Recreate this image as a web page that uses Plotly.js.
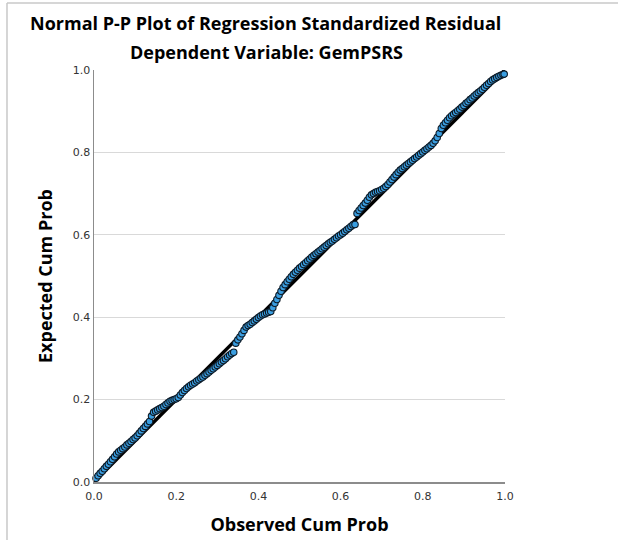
<!DOCTYPE html>
<html>
<head>
<meta charset="utf-8">
<script src="https://cdn.plot.ly/plotly-3.0.1.min.js"></script>
<style>html,body{margin:0;padding:0;background:#fff;}#chart{width:618px;height:540px;}</style>
</head>
<body>
<div id="chart"></div>
<script>
// Observed cumulative probability (x) and expected cumulative probability (y)
const observedCumProb = [
  0.005,0.010,0.015,0.020,0.025,0.030,0.035,0.040,0.045,0.050,
  0.055,0.060,0.065,0.070,0.075,0.080,0.085,0.090,0.095,0.100,
  0.105,0.110,0.115,0.120,0.125,0.130,0.135,0.140,0.145,0.150,
  0.155,0.160,0.165,0.170,0.175,0.180,0.185,0.190,0.195,0.200,
  0.205,0.210,0.215,0.220,0.225,0.230,0.235,0.240,0.245,0.250,
  0.255,0.260,0.265,0.270,0.275,0.280,0.285,0.290,0.295,0.300,
  0.305,0.310,0.315,0.320,0.325,0.330,0.335,0.340,0.345,0.350,
  0.355,0.360,0.365,0.370,0.375,0.380,0.385,0.390,0.395,0.400,
  0.405,0.410,0.415,0.420,0.425,0.430,0.435,0.440,0.445,0.450,
  0.455,0.460,0.465,0.470,0.475,0.480,0.485,0.490,0.495,0.500,
  0.505,0.510,0.515,0.520,0.525,0.530,0.535,0.540,0.545,0.550,
  0.555,0.560,0.565,0.570,0.575,0.580,0.585,0.590,0.595,0.600,
  0.605,0.610,0.615,0.620,0.625,0.630,0.635,0.640,0.645,0.650,
  0.655,0.660,0.665,0.670,0.675,0.680,0.685,0.690,0.695,0.700,
  0.705,0.710,0.715,0.720,0.725,0.730,0.735,0.740,0.745,0.750,
  0.755,0.760,0.765,0.770,0.775,0.780,0.785,0.790,0.795,0.800,
  0.805,0.810,0.815,0.820,0.825,0.830,0.835,0.840,0.845,0.850,
  0.855,0.860,0.865,0.870,0.875,0.880,0.885,0.890,0.895,0.900,
  0.905,0.910,0.915,0.920,0.925,0.930,0.935,0.940,0.945,0.950,
  0.955,0.960,0.965,0.970,0.975,0.980,0.985,0.990,0.995,0.998];
const expectedCumProb = [
  0.009,0.015,0.021,0.026,0.032,0.038,0.043,0.049,0.055,0.061,
  0.068,0.073,0.077,0.081,0.085,0.090,0.094,0.098,0.103,0.107,
  0.112,0.118,0.124,0.130,0.135,0.141,0.147,0.160,0.169,0.172,
  0.175,0.178,0.181,0.184,0.188,0.192,0.196,0.198,0.200,0.202,
  0.205,0.211,0.217,0.222,0.227,0.231,0.235,0.238,0.241,0.245,
  0.248,0.252,0.255,0.259,0.263,0.267,0.271,0.275,0.279,0.283,
  0.287,0.291,0.295,0.299,0.304,0.308,0.312,0.315,0.337,0.345,
  0.352,0.360,0.368,0.376,0.380,0.383,0.387,0.391,0.395,0.399,
  0.403,0.406,0.408,0.410,0.412,0.414,0.423,0.434,0.443,0.453,
  0.463,0.472,0.479,0.486,0.492,0.498,0.504,0.509,0.514,0.519,
  0.523,0.528,0.532,0.537,0.541,0.546,0.550,0.554,0.558,0.562,
  0.566,0.570,0.574,0.578,0.582,0.585,0.589,0.593,0.597,0.600,
  0.604,0.608,0.612,0.616,0.620,0.624,0.625,0.652,0.659,0.665,
  0.671,0.677,0.684,0.691,0.697,0.700,0.703,0.705,0.707,0.710,
  0.713,0.717,0.722,0.728,0.734,0.740,0.746,0.752,0.757,0.761,
  0.765,0.769,0.773,0.777,0.781,0.785,0.789,0.793,0.797,0.801,
  0.805,0.809,0.813,0.817,0.822,0.828,0.836,0.846,0.858,0.866,
  0.872,0.878,0.884,0.889,0.893,0.897,0.901,0.905,0.910,0.914,
  0.919,0.923,0.928,0.932,0.937,0.941,0.945,0.949,0.953,0.958,
  0.963,0.967,0.972,0.976,0.979,0.982,0.985,0.987,0.989,0.990];
const refLine = [0, 1];
const xTicks = [0, 0.2, 0.4, 0.6, 0.8, 1.0];
const xTickLabels = ["0.0", "0.2", "0.4", "0.6", "0.8", "1.0"];
const yTicks = [0, 0.2, 0.4, 0.6, 0.8, 1.0];
const yTickLabels = ["0.0", "0.2", "0.4", "0.6", "0.8", "1.0"];

const titleFont = {family: "Open Sans, Noto Sans, sans-serif", size: 18, color: "#000"};
const tickFont = {family: "DejaVu Sans, sans-serif", size: 11, color: "#333"};

const traces = [
  {
    x: refLine, y: refLine, mode: "lines", type: "scatter",
    line: {color: "#000", width: 3.5}, hoverinfo: "skip", showlegend: false, cliponaxis: false
  },
  {
    x: observedCumProb, y: expectedCumProb, mode: "markers", type: "scatter",
    marker: {size: 6.5, color: "#3b9ee0", line: {color: "#0d1a26", width: 1.1}},
    showlegend: false, cliponaxis: false
  }
];

const layout = {
  width: 618, height: 540,
  margin: {l: 94, r: 113, t: 70, b: 58},
  paper_bgcolor: "#fff", plot_bgcolor: "#fff",
  annotations: [
    {text: "<b>Normal P-P Plot of Regression Standardized Residual</b>", xref: "paper", yref: "paper",
     x: 0.418, y: 1.115, xanchor: "center", yanchor: "middle", showarrow: false, font: titleFont},
    {text: "<b>Dependent Variable: GemPSRS</b>", xref: "paper", yref: "paper",
     x: 0.42, y: 1.044, xanchor: "center", yanchor: "middle", showarrow: false, font: titleFont}
  ],
  xaxis: {
    range: [0, 1], tickvals: xTicks, ticktext: xTickLabels, tickfont: tickFont,
    showgrid: false, zeroline: false, showline: true, linecolor: "#8c8c8c", linewidth: 1.5,
    ticks: "", ticklabelstandoff: 3,
    title: {text: "<b>Observed Cum Prob</b>", font: titleFont, standoff: 16}
  },
  yaxis: {
    range: [0, 1], tickvals: yTicks, ticktext: yTickLabels, tickfont: tickFont,
    showgrid: true, gridcolor: "#d9d9d9", gridwidth: 1.2, zeroline: false,
    showline: true, linecolor: "#8c8c8c", linewidth: 1.5, ticks: "",
    title: {text: "<b>Expected Cum Prob</b>", font: titleFont, standoff: 15}
  },
  shapes: [
    {type: "line", xref: "paper", yref: "paper", x0: -0.2117, x1: 1.3, y0: 1.1626, y1: 1.1626,
     line: {color: "#c8c8c8", width: 1.5}},
    {type: "line", xref: "paper", yref: "paper", x0: -0.2117, x1: -0.2117, y0: -0.2, y1: 1.1626,
     line: {color: "#c8c8c8", width: 1.5}}
  ]
};

Plotly.newPlot("chart", traces, layout, {displayModeBar: false, staticPlot: true});
</script>
</body>
</html>
